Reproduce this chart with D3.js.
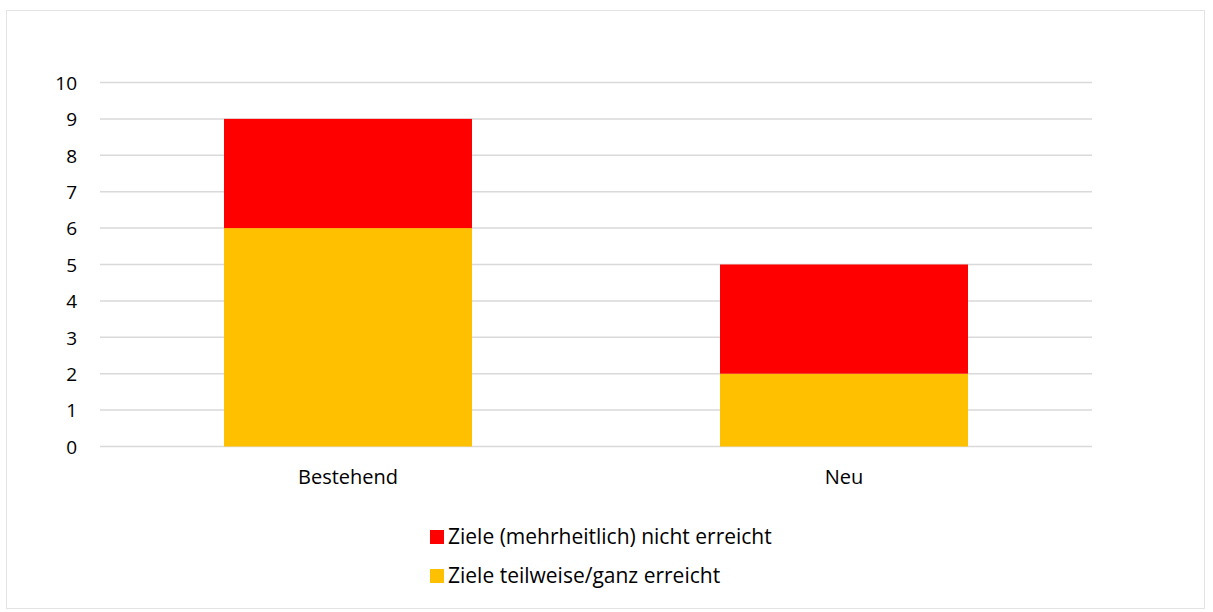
<!DOCTYPE html>
<html>
<head>
<meta charset="utf-8">
<script src="https://cdn.jsdelivr.net/npm/d3@7"></script>
<style>
  body { margin: 0; background: #fff; }
  text { font-family: "Open Sans", "Noto Sans", sans-serif; fill: #000; }
</style>
</head>
<body>
<div id="chart"></div>
<script>
// Daten
const categories = ['Bestehend', 'Neu'];
const seriesNames = ['Ziele teilweise/ganz erreicht', 'Ziele (mehrheitlich) nicht erreicht'];
const erreicht = [6, 2];
const nichtErreicht = [3, 3];
const yTicks = [0, 1, 2, 3, 4, 5, 6, 7, 8, 9, 10];
const colors = ['#FFC000', '#FF0000'];

const width = 1213, height = 612;
const svg = d3.select('#chart').append('svg')
    .attr('width', width)
    .attr('height', height);

// Rahmen
svg.append('rect')
    .attr('x', 6.5).attr('y', 10.5)
    .attr('width', 1198).attr('height', 598)
    .attr('fill', '#fff')
    .attr('stroke', '#e3e3e3');

const x = d3.scaleBand()
    .domain(categories)
    .range([100, 1092])
    .paddingInner(0.5)
    .paddingOuter(0.25);

const y = d3.scaleLinear()
    .domain([0, 10])
    .range([446.5, 82.5]);

// Gitternetz
svg.append('g')
    .selectAll('line')
    .data(yTicks)
    .join('line')
    .attr('x1', 100).attr('x2', 1092)
    .attr('y1', d => y(d)).attr('y2', d => y(d))
    .attr('stroke', '#d9d9d9')
    .attr('stroke-width', 1.5);

// Y-Achse
const yAxis = svg.append('g')
    .attr('transform', 'translate(77,0)')
    .call(d3.axisLeft(y).tickValues(yTicks).tickSize(0).tickPadding(0));
yAxis.select('.domain').remove();
yAxis.selectAll('text').style('font-size', '19px').attr('fill', '#000').attr('dy', '0.36em');

// gestapelte Balken
const table = categories.map((c, i) => ({ cat: c, erreicht: erreicht[i], nicht: nichtErreicht[i] }));
const stack = d3.stack().keys(['erreicht', 'nicht'])(table);

svg.append('g')
    .selectAll('g')
    .data(stack)
    .join('g')
    .attr('fill', (d, i) => colors[i])
    .selectAll('rect')
    .data(d => d)
    .join('rect')
    .attr('x', d => x(d.data.cat))
    .attr('width', x.bandwidth())
    .attr('y', d => y(d[1]))
    .attr('height', d => y(d[0]) - y(d[1]));

// X-Achse
const xAxis = svg.append('g')
    .attr('transform', 'translate(0,484)')
    .call(d3.axisBottom(x).tickSize(0).tickPadding(0));
xAxis.select('.domain').remove();
xAxis.selectAll('text').style('font-size', '20px').attr('fill', '#000').attr('y', 0).attr('dy', 0);

// Legende (rot oben, gelb unten)
const legendItems = [
    { name: seriesNames[1], color: colors[1] },
    { name: seriesNames[0], color: colors[0] }
];
const legend = svg.append('g')
    .selectAll('g')
    .data(legendItems)
    .join('g')
    .attr('transform', (d, i) => 'translate(430,' + (530 + i * 39) + ')');
legend.append('rect')
    .attr('width', 14).attr('height', 14)
    .attr('fill', d => d.color);
legend.append('text')
    .attr('x', 18).attr('y', 14)
    .style('font-size', '21px')
    .text(d => d.name);
</script>
</body>
</html>
